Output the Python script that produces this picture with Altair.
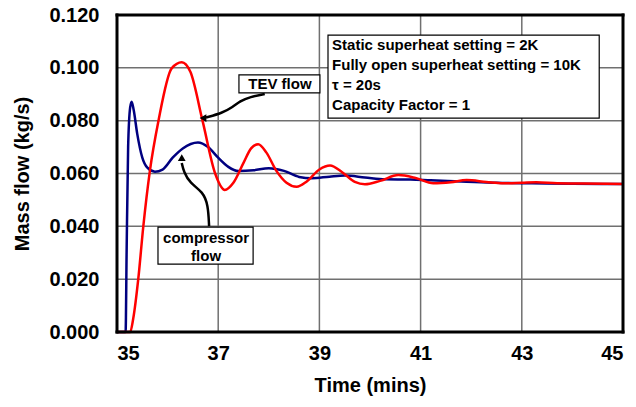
import altair as alt
import pandas as pd

# Compressor flow (navy)
comp_t = [35.0, 35.17, 35.19, 35.22, 35.26, 35.29, 35.33, 35.4, 35.5, 35.6, 35.75, 35.9, 36.1, 36.3, 36.6,
          36.8, 37.0, 37.2, 37.4, 37.7, 38.0, 38.3, 38.6, 38.85, 39.2, 39.5, 39.9, 40.3, 40.8, 41.2, 41.8,
          42.5, 43.2, 44.0, 45.0]
comp_v = [0.0, 0.0, 0.030, 0.070, 0.085, 0.0872, 0.084, 0.075, 0.066, 0.0622, 0.0607, 0.0615, 0.066, 0.0695, 0.0717,
          0.070, 0.066, 0.0625, 0.0609, 0.0612, 0.0620, 0.0610, 0.0587, 0.0582, 0.0588, 0.0592, 0.0585, 0.0578, 0.0577,
          0.0574, 0.0570, 0.0565, 0.0563, 0.0561, 0.0560]

# TEV flow (red)
tev_t = [35.0, 35.26, 35.32, 35.42, 35.52, 35.65, 35.82, 36.08, 36.28, 36.45, 36.69, 36.94, 37.13, 37.3, 37.5,
         37.65, 37.79, 37.95, 38.15, 38.35, 38.55, 38.75, 39.0, 39.21, 39.45, 39.7, 39.9, 40.2, 40.56, 40.9,
         41.25, 41.6, 41.91, 42.3, 42.63, 43.0, 43.29, 43.7, 44.2, 45.0]
tev_v = [0.0, 0.0, 0.005, 0.020, 0.040, 0.061, 0.080, 0.0998, 0.1021, 0.0985, 0.080, 0.060, 0.0538, 0.0565, 0.064,
         0.0695, 0.0711, 0.068, 0.061, 0.0565, 0.0550, 0.0570, 0.0615, 0.0630, 0.0605, 0.0568, 0.0559, 0.0572,
         0.0594, 0.0583, 0.0563, 0.0567, 0.0575, 0.0568, 0.0563, 0.0565, 0.0567, 0.0563, 0.0562, 0.0560]

x_ticks = [35, 37, 39, 41, 43, 45]
y_ticks = [0.0, 0.02, 0.04, 0.06, 0.08, 0.10, 0.12]

info_lines = ["Static superheat setting = 2K", "Fully open superheat setting = 10K",
              "τ = 20s", "Capacity Factor = 1"]

FONT = "Liberation Sans"
W, H = 506, 317

comp_df = pd.DataFrame({"t": comp_t, "v": comp_v})
tev_df = pd.DataFrame({"t": tev_t, "v": tev_v})

xs = alt.Scale(domain=[35, 45], nice=False, zero=False)
ys = alt.Scale(domain=[0, 0.12], nice=False)

X = alt.X("t:Q", scale=xs, axis=alt.Axis(values=x_ticks, format="d", title="Time (mins)",
                                        grid=False, ticks=False,
                                        domain=False, labelFont=FONT, labelFontSize=20, labelFontWeight="bold",
                                        labelColor="black", labelPadding=11, titleFont=FONT, titleFontSize=20,
                                        titleFontWeight="bold", titleColor="black", titlePadding=12))
Y = alt.Y("v:Q", scale=ys, axis=alt.Axis(values=y_ticks, format=".3f", title="Mass flow (kg/s)",
                                        grid=False, ticks=False,
                                        domain=False, labelFont=FONT, labelFontSize=20, labelFontWeight="bold",
                                        labelColor="black", labelPadding=18, titleFont=FONT, titleFontSize=20,
                                        titleFontWeight="bold", titleColor="black", titlePadding=16))

# interior grid lines
vgrid = alt.Chart(pd.DataFrame({"t": x_ticks[1:-1]})).mark_rule(color="#707070", strokeWidth=1.5).encode(x=X)
hgrid = alt.Chart(pd.DataFrame({"v": y_ticks[1:-1]})).mark_rule(color="#707070", strokeWidth=1.5).encode(y=Y)

blue = alt.Chart(comp_df).mark_line(color="#000080", strokeWidth=2.5, interpolate="monotone").encode(x=X, y=Y)
red = alt.Chart(tev_df).mark_line(color="#ff0000", strokeWidth=2.5, interpolate="monotone").encode(x=X, y=Y)

# annotation boxes (data coordinates)
boxes = pd.DataFrame({
    "x1": [39.17, 37.41, 35.81], "x2": [44.53, 39.01, 37.69],
    "y1": [0.1124, 0.0973, 0.0397], "y2": [0.0810, 0.0905, 0.0257]})
box = alt.Chart(boxes).mark_rect(fill="white", stroke="black", strokeWidth=1.2).encode(
    x="x1:Q", x2="x2:Q", y="y1:Q", y2="y2:Q")

info_df = pd.DataFrame({"t": [39.25] * 4, "v": [0.1085, 0.1011, 0.0935, 0.0859], "s": info_lines})
info = alt.Chart(info_df).mark_text(align="left", baseline="middle", font=FONT, fontSize=15,
                                    fontWeight="bold", color="black").encode(x="t:Q", y="v:Q", text="s:N")

lab_df = pd.DataFrame({"t": [38.22, 36.76, 36.76], "v": [0.0937, 0.0356, 0.0288],
                       "s": ["TEV flow", "compressor", "flow"]})
labs = alt.Chart(lab_df).mark_text(align="center", baseline="middle", font=FONT, fontSize=15,
                                   fontWeight="bold", color="black").encode(x="t:Q", y="v:Q", text="s:N")

# arrows
arr_df = pd.DataFrame({
    "t": [37.92, 37.63, 37.43, 37.29, 37.08, 36.76,
          36.82, 36.80, 36.70, 36.44, 36.32, 36.28],
    "v": [0.0901, 0.0890, 0.0874, 0.0852, 0.0829, 0.0812,
          0.0401, 0.0481, 0.0530, 0.0564, 0.0606, 0.0640],
    "g": ["a"] * 6 + ["b"] * 6,
    "o": list(range(6)) * 2})
arrows = alt.Chart(arr_df).mark_line(color="black", strokeWidth=2.5, interpolate="basis").encode(
    x="t:Q", y="v:Q", detail="g:N", order="o:Q")
heads_df = pd.DataFrame({"t": [36.70, 36.28], "v": [0.0810, 0.0660], "shape": ["triangle-left", "triangle-up"]})
heads = alt.Chart(heads_df).mark_point(filled=True, color="black", opacity=1, size=60).encode(
    x="t:Q", y="v:Q", shape=alt.Shape("shape:N", scale=None))

# plot frame as four rules on the axis extents
x0, x1 = x_ticks[0], x_ticks[-1]
y0, y1 = y_ticks[0], y_ticks[-1]
frame_df = pd.DataFrame({"fx": [x0, x0, x0, x1], "fx2": [x1, x1, x0, x1],
                         "fy": [y0, y1, y0, y0], "fy2": [y0, y1, y1, y1]})
frame = alt.Chart(frame_df).mark_rule(color="black", strokeWidth=3, strokeCap="square").encode(
    x="fx:Q", x2="fx2:Q", y="fy:Q", y2="fy2:Q")

chart = alt.layer(vgrid, hgrid, blue, red, box, info, labs, arrows, heads, frame).properties(
    width=W, height=H,
    autosize=alt.AutoSizeParams(type="none"),
    padding={"left": 117, "top": 15, "right": 13, "bottom": 75},
).configure_view(stroke=None).configure(background="white")

chart.save("out.html", embed_options={"renderer": "svg", "actions": False})
